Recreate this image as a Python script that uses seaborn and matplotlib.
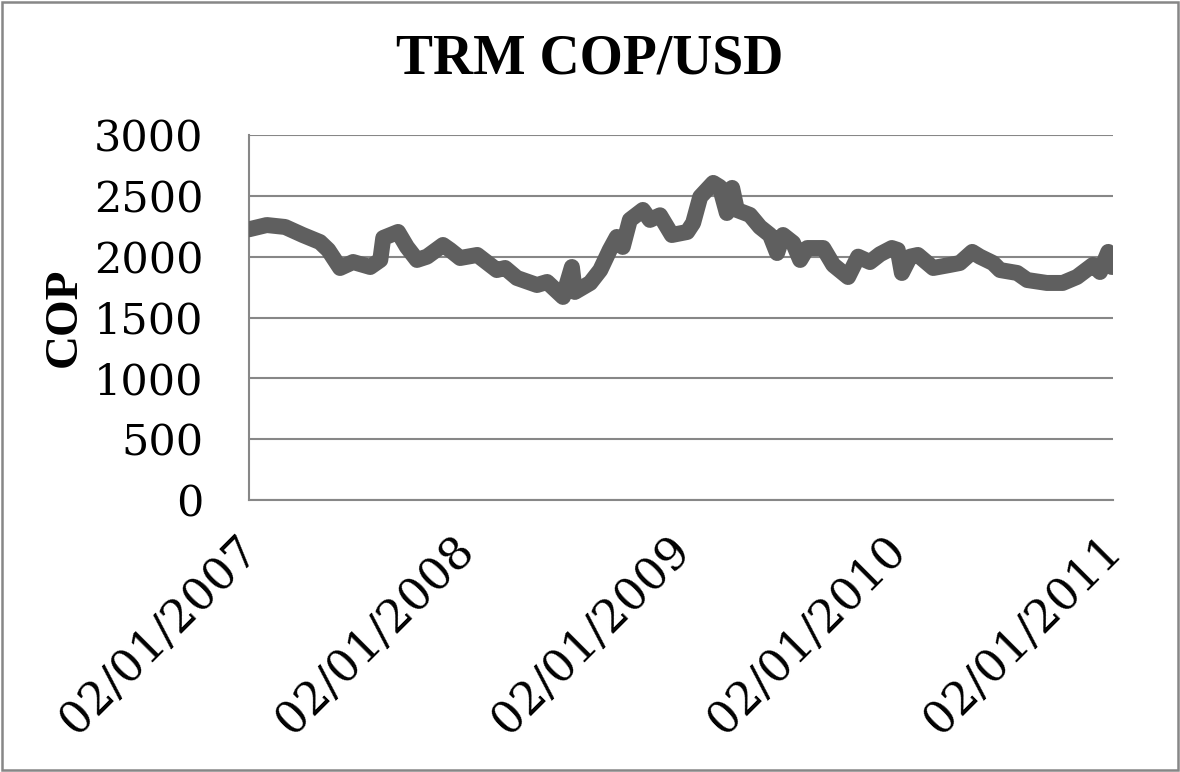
import matplotlib
matplotlib.use("Agg")
import matplotlib.pyplot as plt
import matplotlib.dates as mdates
import matplotlib.transforms as mtransforms
from matplotlib.patches import Rectangle
import pandas as pd
import seaborn as sns

# Tasa Representativa del Mercado, pesos colombianos por dólar
dates = [
    "2007-01-02", "2007-02-01", "2007-03-04", "2007-04-03", "2007-05-02", "2007-05-16",
    "2007-06-05", "2007-06-27", "2007-07-26", "2007-08-12", "2007-08-17", "2007-09-11",
    "2007-09-26", "2007-10-13", "2007-10-30", "2007-11-26", "2007-12-08", "2007-12-25",
    "2008-01-23", "2008-02-25", "2008-03-10", "2008-03-30", "2008-05-03", "2008-05-20",
    "2008-06-16", "2008-07-01", "2008-07-06", "2008-08-01", "2008-08-18", "2008-09-03",
    "2008-09-15", "2008-09-25", "2008-10-07", "2008-10-29", "2008-11-10", "2008-11-27",
    "2008-12-17", "2009-01-12", "2009-01-22", "2009-02-03", "2009-02-25", "2009-03-08",
    "2009-03-20", "2009-03-29", "2009-04-06", "2009-04-28", "2009-05-15", "2009-06-01",
    "2009-06-13", "2009-06-23", "2009-07-10", "2009-07-22", "2009-08-03", "2009-08-30",
    "2009-09-16", "2009-10-11", "2009-10-28", "2009-11-17", "2009-12-04", "2009-12-24",
    "2010-01-03", "2010-01-10", "2010-01-24", "2010-02-06", "2010-03-04", "2010-04-01",
    "2010-04-18", "2010-05-09", "2010-05-22", "2010-06-13", "2010-06-25", "2010-07-24",
    "2010-08-10", "2010-09-12", "2010-10-09", "2010-11-02", "2010-11-29", "2010-12-11",
    "2010-12-25", "2010-12-31",
]
cop = [
    2225, 2260, 2244, 2178, 2120, 2055,
    1907, 1956, 1915, 1973, 2154, 2203,
    2080, 1973, 2000, 2096, 2055, 1989,
    2014, 1890, 1907, 1825, 1767, 1792,
    1669, 1915, 1710, 1784, 1890, 2055,
    2162, 2080, 2302, 2384, 2302, 2340,
    2178, 2203, 2277, 2491, 2606, 2573,
    2359, 2565, 2384, 2343, 2244, 2178,
    2030, 2178, 2113, 1973, 2071, 2071,
    1932, 1833, 2000, 1956, 2020, 2071,
    2055, 1866, 2000, 2014, 1907, 1932,
    1948, 2039, 2000, 1948, 1890, 1866,
    1808, 1784, 1784, 1833, 1932, 1874,
    2039, 1915,
]
tick_dates = ["2007-01-02", "2008-01-02", "2009-01-02", "2010-01-02", "2011-01-02"]
y_ticks = [0, 500, 1000, 1500, 2000, 2500, 3000]

df = pd.DataFrame({"fecha": pd.to_datetime(dates), "COP": cop})

sns.set_theme(style="white")
plt.rcParams["font.family"] = ["Liberation Serif", "DejaVu Serif"]
plt.rcParams["text.color"] = "black"

fig = plt.figure(figsize=(11.8, 7.72), dpi=100)
ax = fig.add_axes([249 / 1180, 1 - 500 / 772, (1113 - 249) / 1180, (500 - 135) / 772])

grid_col = "#878787"
sns.lineplot(data=df, x="fecha", y="COP", ax=ax, color="#5f5f5f", linewidth=11.5,
             solid_capstyle="round", solid_joinstyle="round", zorder=3)

ax.set_xlim(pd.Timestamp(tick_dates[0]), pd.Timestamp(tick_dates[-1]))
ax.set_ylim(y_ticks[0], y_ticks[-1])
ax.set_yticks(y_ticks)
ax.set_yticklabels([str(v) for v in y_ticks], fontsize=31, family="DejaVu Serif")
ax.set_xticks(pd.to_datetime(tick_dates))
ax.xaxis.set_major_formatter(mdates.DateFormatter("%d/%m/%Y"))
ax.tick_params(axis="both", length=0, colors="black")
ax.tick_params(axis="y", pad=33)
ax.tick_params(axis="x", pad=31)

shift = mtransforms.ScaledTranslation(2 / 100, 0, fig.dpi_scale_trans)
for lab in ax.get_xticklabels():
    lab.set_rotation(45)
    lab.set_ha("right")
    lab.set_va("center")
    lab.set_rotation_mode("anchor")
    lab.set_fontsize(32.5)
    lab.set_family("DejaVu Serif")
    lab.set_transform(lab.get_transform() + shift)

ax.grid(axis="y", color=grid_col, linewidth=1.5)
ax.set_axisbelow(True)
for side in ["top", "right"]:
    ax.spines[side].set_visible(False)
for side in ["left", "bottom"]:
    ax.spines[side].set_color(grid_col)
    ax.spines[side].set_linewidth(1.5)

ax.set_xlabel("")
ax.set_ylabel("COP", fontsize=34, fontweight="bold", color="black")
ax.yaxis.label.set_va("center")
ax.yaxis.set_label_coords((65 - 249) / 864, 0.5)

fig.text(0.5, 1 - 60 / 772, "TRM COP/USD", ha="center", va="center",
         fontsize=40, fontweight="bold", color="black")

fig.patches.append(Rectangle((0.002, 0.003), 0.996, 0.994, transform=fig.transFigure,
                             fill=False, edgecolor=grid_col, linewidth=1.8))

fig.savefig("out.png", dpi=100)
